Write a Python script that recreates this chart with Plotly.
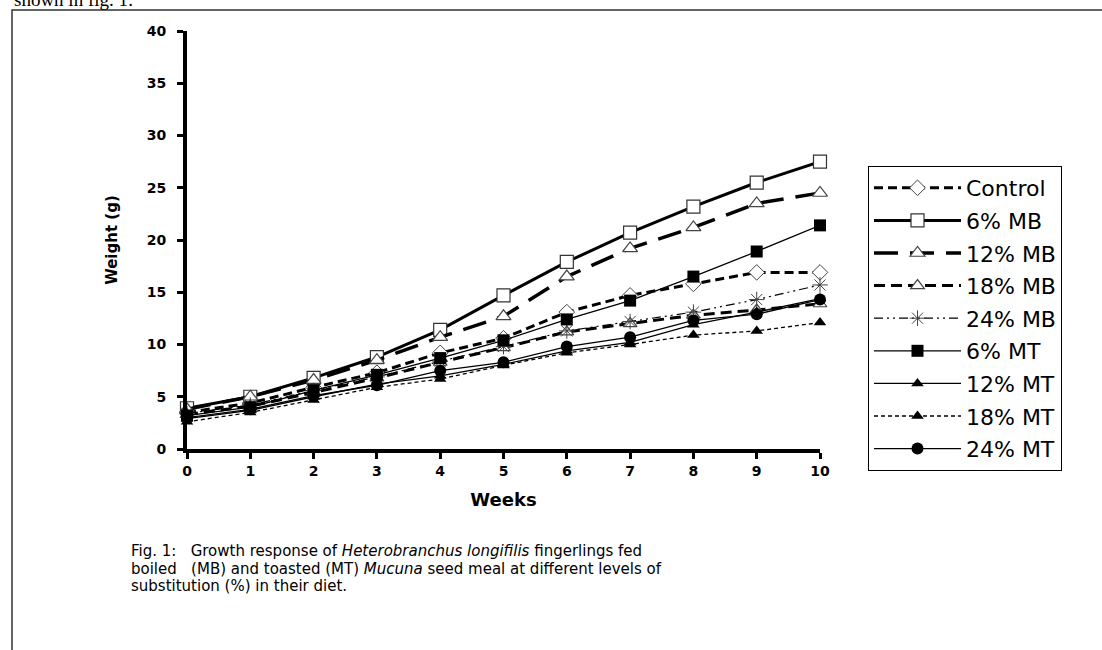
import plotly.graph_objects as go

weeks = [0, 1, 2, 3, 4, 5, 6, 7, 8, 9, 10]

control = [3.5, 4.4, 5.9, 7.3, 9.2, 10.6, 13.1, 14.7, 15.8, 16.9, 16.9]
mb6 = [3.9, 5.0, 6.8, 8.8, 11.4, 14.7, 17.9, 20.7, 23.2, 25.5, 27.5]
mb12 = [3.8, 5.0, 6.6, 8.5, 10.7, 12.7, 16.5, 19.2, 21.2, 23.5, 24.5]
mb18 = [3.3, 4.1, 5.4, 6.8, 8.3, 9.7, 11.2, 12.0, 12.8, 13.3, 13.9]
mb24 = [3.4, 4.2, 5.6, 6.9, 8.4, 9.8, 11.3, 12.2, 13.1, 14.3, 15.7]
mt6 = [3.2, 4.0, 5.6, 7.1, 8.7, 10.4, 12.4, 14.2, 16.5, 18.9, 21.4]
mt12 = [2.9, 3.7, 5.0, 6.2, 7.0, 8.1, 9.4, 10.2, 11.9, 13.1, 14.4]
mt18 = [2.6, 3.5, 4.7, 5.9, 6.7, 8.0, 9.2, 10.0, 10.9, 11.3, 12.1]
mt24 = [3.0, 3.8, 5.1, 6.1, 7.5, 8.3, 9.8, 10.7, 12.3, 12.9, 14.3]

y_ticks = [0, 5, 10, 15, 20, 25, 30, 35, 40]

series = [
    ("Control", control, dict(width=3, dash="9px,5px"), dict(symbol="diamond", size=12, color="white", line=dict(color="#444", width=1))),
    ("6% MB", mb6, dict(width=3, dash="solid"), dict(symbol="square", size=13, color="white", line=dict(color="#333", width=1.2))),
    ("12% MB", mb12, dict(width=3.5, dash="24px,12px"), dict(symbol="triangle-up", size=13, color="white", line=dict(color="#444", width=1.2))),
    ("18% MB", mb18, dict(width=3, dash="11px,6px"), dict(symbol="triangle-up", size=12, color="white", line=dict(color="#444", width=1.2))),
    ("24% MB", mb24, dict(width=1.2, dash="9px,4px,2px,4px,2px,4px"), dict(symbol="asterisk-open", size=13, color="#444", line=dict(color="#444", width=1))),
    ("6% MT", mt6, dict(width=1.3, dash="solid"), dict(symbol="square", size=12, color="black")),
    ("12% MT", mt12, dict(width=1.3, dash="solid"), dict(symbol="triangle-up", size=11, color="black")),
    ("18% MT", mt18, dict(width=1.3, dash="4px,3px"), dict(symbol="triangle-up", size=11, color="black")),
    ("24% MT", mt24, dict(width=1.3, dash="solid"), dict(symbol="circle", size=12, color="black")),
]

fig = go.Figure()
for i, (name, vals, ln, mk) in enumerate(series):
    fig.add_trace(go.Scatter(
        x=weeks, y=vals, name=name, mode="lines+markers",
        line=dict(color="black", **ln), marker=mk,
        legendgroup=f"g{i}", cliponaxis=False,
    ))

L, R, T, B = 187, 282, 31, 201
W, H = 1102, 650
pw, ph = W - L - R, H - T - B

def px(x):
    return (x - L) / pw

def py(y):
    return (H - B - y) / ph

fig.update_layout(
    width=W, height=H, autosize=False,
    margin=dict(l=L, r=R, t=T, b=B, pad=0),
    paper_bgcolor="white", plot_bgcolor="white",
    font=dict(family="DejaVu Sans", color="black"),
    showlegend=True,
    legend=dict(
        x=px(868), y=py(166), xanchor="left", yanchor="top",
        bordercolor="black", borderwidth=1, bgcolor="white",
        font=dict(family="DejaVu Sans", size=22, color="black"),
        traceorder="grouped", tracegroupgap=1, itemwidth=87,
    ),
    xaxis=dict(
        range=[0, 10], tickmode="array", tickvals=weeks,
        showline=True, linecolor="black", linewidth=4,
        ticks="outside", ticklen=6, tickwidth=3, tickcolor="black",
        showgrid=False, zeroline=False,
        tickfont=dict(family="DejaVu Sans", size=14, color="black", weight="bold"),
        title=dict(text="<b>Weeks</b>", font=dict(family="DejaVu Sans", size=18, color="black"), standoff=17),
    ),
    yaxis=dict(
        range=[0, 40], tickmode="array", tickvals=y_ticks,
        showline=True, linecolor="black", linewidth=4,
        ticks="outside", ticklen=6, tickwidth=3, tickcolor="black",
        showgrid=False, zeroline=False, ticklabelstandoff=8,
        tickfont=dict(family="DejaVu Sans", size=14, color="black", weight="bold"),
        title=dict(text="<b>Weight (g)</b>", font=dict(family="DejaVu Sans", size=15, color="black"), standoff=26),
    ),
)

# page frame and cut-off running text above it
fig.add_shape(type="rect", xref="paper", yref="paper",
              x0=px(12), x1=px(1120), y0=py(670), y1=py(10),
              line=dict(color="#333", width=1.5), fillcolor="rgba(0,0,0,0)", layer="below")
fig.add_annotation(text="shown in fig. 1:", xref="paper", yref="paper",
                   x=px(12), y=py(-1), xanchor="left", yanchor="middle", showarrow=False,
                   font=dict(family="Liberation Serif", size=19, color="black"))

caption = [
    "Fig. 1:\u00a0\u00a0 Growth response of <i>Heterobranchus longifilis</i> fingerlings fed",
    "boiled\u00a0\u00a0 (MB) and toasted (MT) <i>Mucuna</i> seed meal at different levels of",
    "substitution (%) in their diet.",
]
for k, (line, yc) in enumerate(zip(caption, [551, 568.5, 586])):
    fig.add_annotation(text=line, xref="paper", yref="paper",
                       x=px(129), y=py(yc), xanchor="left", yanchor="middle", showarrow=False,
                       font=dict(family="DejaVu Sans", size=15, color="black"))

fig.write_html("out.html", config={"displayModeBar": False},
               post_script="document.body.style.margin='0';")
